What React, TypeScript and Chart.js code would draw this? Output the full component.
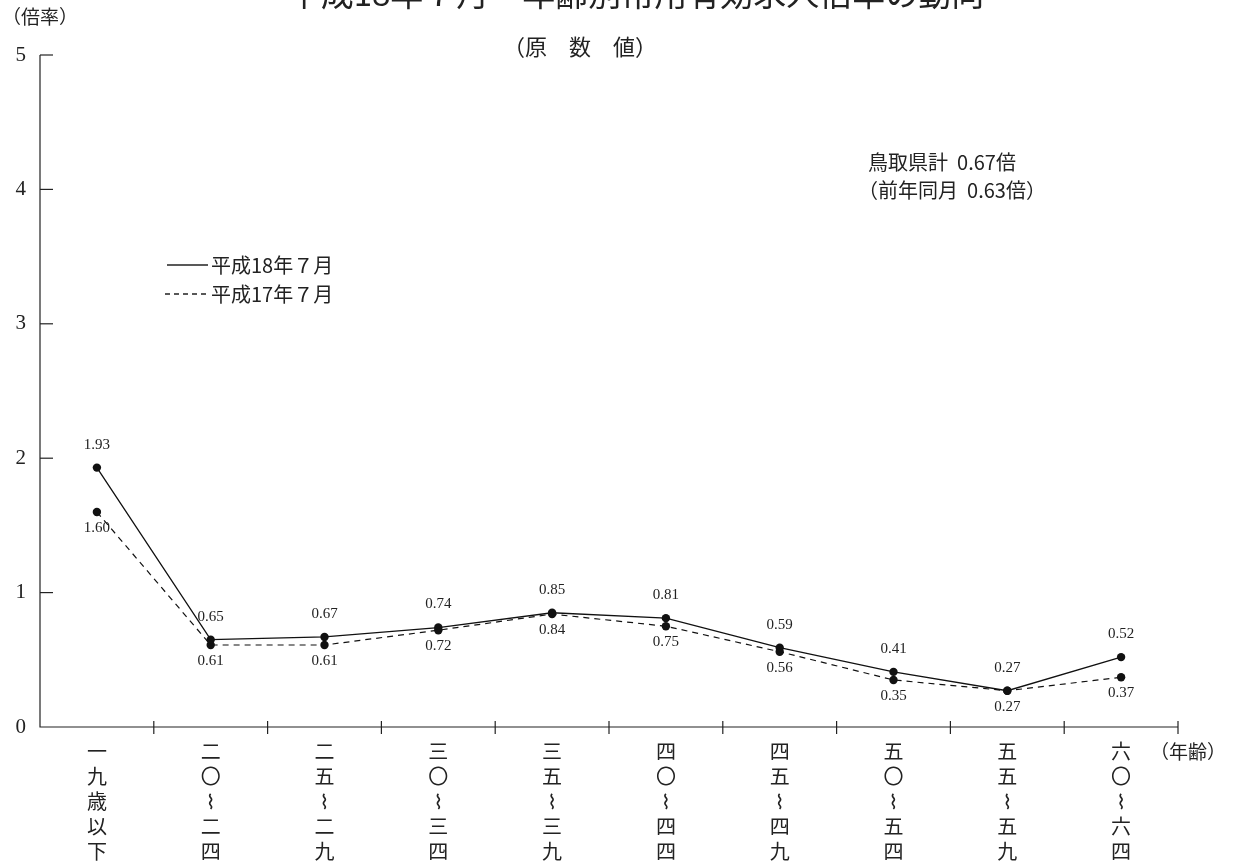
import React, { useEffect, useRef } from "react";
import { Chart, registerables } from "chart.js";

Chart.register(...registerables);

const categories = [
  "一九歳以下",
  "二〇⌇二四",
  "二五⌇二九",
  "三〇⌇三四",
  "三五⌇三九",
  "四〇⌇四四",
  "四五⌇四九",
  "五〇⌇五四",
  "五五⌇五九",
  "六〇⌇六四",
];
const seriesH18 = [1.93, 0.65, 0.67, 0.74, 0.85, 0.81, 0.59, 0.41, 0.27, 0.52];
const seriesH17 = [1.6, 0.61, 0.61, 0.72, 0.84, 0.75, 0.56, 0.35, 0.27, 0.37];
const labelH18 = "平成18年７月";
const labelH17 = "平成17年７月";
const yTicks = [0, 1, 2, 3, 4, 5];
const titleText = "平成18年７月　年齢別常用有効求人倍率の動向";
const subTitle = "（原　数　値）";
const yUnit = "（倍率）";
const xUnit = "（年齢）";
const noteLines = ["鳥取県計  0.67倍", "（前年同月  0.63倍）"];

const SERIF = "'Liberation Serif', 'DejaVu Serif', 'Noto Sans CJK JP', serif";
const JP = "'Noto Sans CJK JP', 'Liberation Serif', serif";
const XFONT = "'DejaVu Sans', 'Noto Sans CJK JP', serif";

const decorPlugin = {
  id: "decor",
  afterDraw(chart: any) {
    const ctx = chart.ctx;
    const xs = chart.scales.x;
    const ys = chart.scales.y;
    const area = chart.chartArea;
    ctx.save();
    ctx.strokeStyle = "#222";
    ctx.fillStyle = "#222";
    ctx.lineWidth = 1.2;
    // axes
    ctx.beginPath();
    ctx.moveTo(area.left, ys.getPixelForValue(5));
    ctx.lineTo(area.left, ys.getPixelForValue(0));
    ctx.lineTo(area.right, ys.getPixelForValue(0));
    ctx.stroke();
    // y ticks inside
    yTicks.forEach((v) => {
      if (v === 0) return;
      const y = ys.getPixelForValue(v);
      ctx.beginPath();
      ctx.moveTo(area.left, y);
      ctx.lineTo(area.left + 13, y);
      ctx.stroke();
    });
    // x ticks at category boundaries
    const n = categories.length;
    for (let i = 0; i < n; i++) {
      const x = i === n - 1 ? area.right : (xs.getPixelForValue(i) + xs.getPixelForValue(i + 1)) / 2;
      const y0 = ys.getPixelForValue(0);
      ctx.beginPath();
      ctx.moveTo(x, y0 - 6);
      ctx.lineTo(x, y0 + 7);
      ctx.stroke();
    }
    // data labels
    ctx.font = "15px " + SERIF;
    ctx.textAlign = "center";
    ctx.textBaseline = "middle";
    seriesH18.forEach((v, i) => {
      ctx.fillText(v.toFixed(2), xs.getPixelForValue(i), ys.getPixelForValue(v) - 23);
    });
    seriesH17.forEach((v, i) => {
      ctx.fillText(v.toFixed(2), xs.getPixelForValue(i), ys.getPixelForValue(v) + 16);
    });
    // title (cut at top)
    ctx.font = "33px " + JP;
    ctx.fillText(titleText, 636, -7);
    ctx.font = "22px " + JP;
    ctx.fillText(subTitle, 580, 47);
    ctx.font = "19px " + JP;
    ctx.textAlign = "left";
    ctx.fillText(yUnit, 2, 17);
    ctx.fillText(xUnit, 1150, 752);
    // note
    ctx.font = "20px " + JP;
    ctx.textAlign = "center";
    ctx.fillText(noteLines[0], 942, 162);
    ctx.fillText(noteLines[1], 952, 190);
    // legend
    ctx.lineWidth = 1.3;
    ctx.beginPath();
    ctx.moveTo(167, 265);
    ctx.lineTo(208, 265);
    ctx.stroke();
    ctx.setLineDash([5, 4]);
    ctx.beginPath();
    ctx.moveTo(165, 294);
    ctx.lineTo(208, 294);
    ctx.stroke();
    ctx.setLineDash([]);
    ctx.textAlign = "left";
    ctx.font = "20px " + JP;
    ctx.fillText(labelH18, 211, 265);
    ctx.fillText(labelH17, 211, 294);
    ctx.restore();
  },
};

export default function App() {
  const ref = useRef<HTMLCanvasElement | null>(null);
  useEffect(() => {
    document.body.style.margin = "0";
    const chart = new Chart(ref.current as HTMLCanvasElement, {
      type: "line",
      data: {
        labels: categories,
        datasets: [
          {
            label: labelH18,
            data: seriesH18,
            borderColor: "#111",
            backgroundColor: "#111",
            borderWidth: 1.3,
            pointRadius: 4.2,
            pointBackgroundColor: "#111",
            pointBorderWidth: 0,
            tension: 0,
          },
          {
            label: labelH17,
            data: seriesH17,
            borderColor: "#111",
            backgroundColor: "#111",
            borderWidth: 1.2,
            borderDash: [6, 5],
            pointRadius: 4.2,
            pointBackgroundColor: "#111",
            pointBorderWidth: 0,
            tension: 0,
          },
        ],
      },
      options: {
        responsive: false,
        animation: false,
        devicePixelRatio: 1,
        layout: { padding: { top: 55, right: 55, left: 0, bottom: 0 } },
        plugins: { legend: { display: false }, tooltip: { enabled: false } },
        scales: {
          x: {
            offset: true,
            grid: { display: false, drawTicks: false },
            border: { display: false },
            ticks: {
              autoSkip: false,
              maxRotation: 0,
              padding: 14,
              color: "#222",
              font: { size: 20, family: XFONT, lineHeight: 1.25 },
              callback: (_v: any, i: number) => Array.from(categories[i]),
            },
            afterFit: (s: any) => {
              s.height = 140;
            },
          },
          y: {
            min: 0,
            max: 5,
            grid: { display: false, drawTicks: false },
            border: { display: false },
            afterBuildTicks: (s: any) => {
              s.ticks = yTicks.map((v) => ({ value: v }));
            },
            ticks: {
              padding: 14,
              color: "#222",
              font: { size: 21, family: SERIF },
            },
            afterFit: (s: any) => {
              s.width = 40;
            },
          },
        },
      },
      plugins: [decorPlugin],
    });
    return () => chart.destroy();
  }, []);
  return (
    <div style={{ position: "absolute", left: 0, top: 0, width: 1233, height: 867, background: "#fff" }}>
      <canvas ref={ref} width={1233} height={867} style={{ width: 1233, height: 867 }} />
    </div>
  );
}
